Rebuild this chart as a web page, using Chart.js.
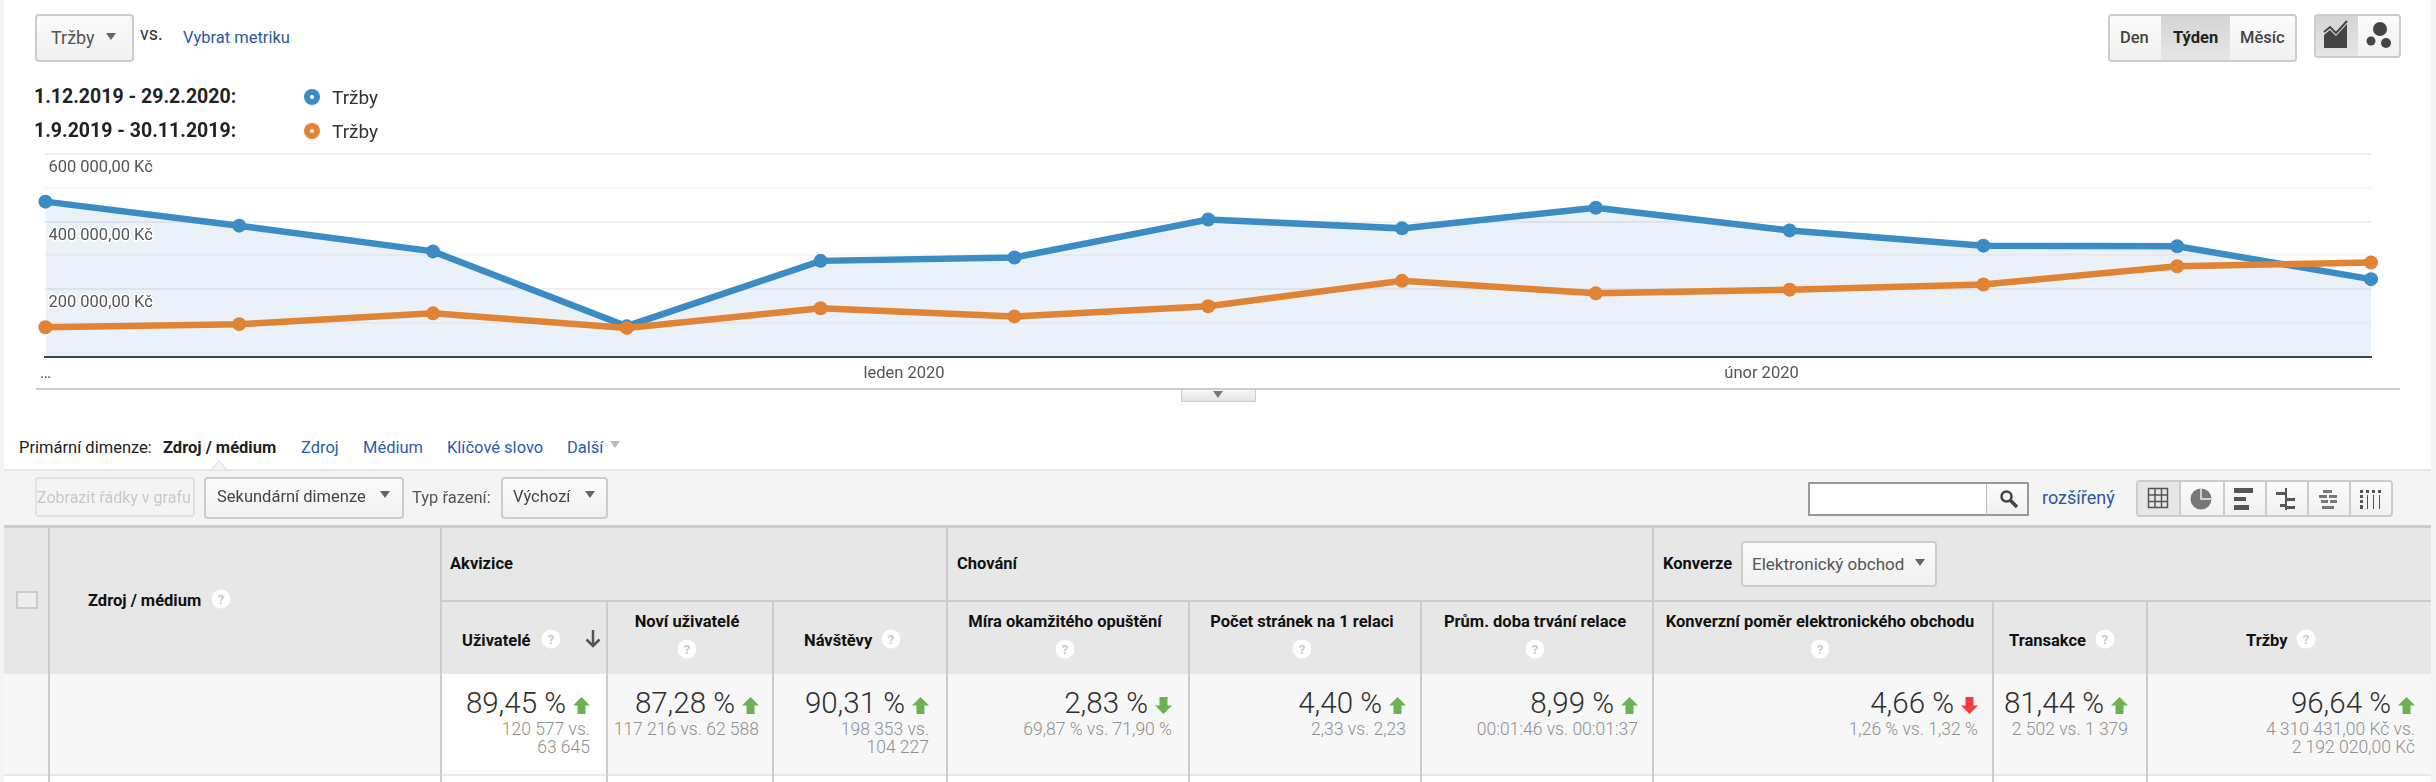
<!DOCTYPE html>
<html lang="cs">
<head>
<meta charset="utf-8">
<title>Tržby</title>
<script src="https://cdn.jsdelivr.net/npm/chart.js@4"></script>
<style>
  html, body { margin: 0; padding: 0; background: #fff; }
  body { width: 2436px; height: 782px; overflow: hidden; position: relative; font-family: Roboto, sans-serif; color: #333; }
  .t { position: absolute; white-space: nowrap; line-height: 1; transform: translateY(-50%); }
  .box { position: absolute; box-sizing: border-box; }
  .btn { border: 2px solid #ccc; border-radius: 4px; background: linear-gradient(#fbfbfb, #f1f1f1); }
  .on { background: linear-gradient(#d4d4d4, #e6e6e6); }
  .line { position: absolute; background: #ccc; }
  .caret { position: absolute; width: 0; height: 0; border-left: 5px solid transparent; border-right: 5px solid transparent; border-top: 7px solid #666; }
  .link { color: #2a5db0; }
  .bold { font-weight: 700; }
  .help { position: absolute; width: 19px; height: 19px; border-radius: 50%; background: #fff; color: #c9c9c9; font-size: 13px; font-weight: 700; line-height: 19px; text-align: center; transform: translate(-50%, -50%); }
  svg { position: absolute; overflow: visible; }
  #chartWrap { position: absolute; left: 0; top: 141px; width: 2436px; height: 249px; }
</style>
</head>
<body>
<div class="box" style="left:0;top:0;width:4px;height:782px;background:#f4f4f4"></div>
<div class="box" style="left:2431px;top:0;width:5px;height:782px;background:#f4f4f4"></div>
<div id="chartWrap"><canvas id="revenueChart"></canvas></div>
<div id="page"></div>

<script>
// data
const seriesName = "Tržby";
const rangeCurrent = "1.12.2019 - 29.2.2020:";
const rangePrevious = "1.9.2019 - 30.11.2019:";
const revenueCurrent = [459000, 388000, 312000, 91000, 284000, 294000, 406000, 380000, 441000, 374000, 329000, 327000, 230000];
const revenuePrevious = [88000, 97000, 129000, 86000, 144000, 120000, 150000, 225000, 188000, 199000, 214000, 268000, 279000];
const yTickValues = [600000, 400000, 200000];
const yTickLabels = ["600 000,00 Kč", "400 000,00 Kč", "200 000,00 Kč"];
const xTickValues = [0, 4.43, 8.855];
const xTickLabels = ["…", "leden 2020", "únor 2020"];

const colorCurrent = "#3b8bc4";
const colorPrevious = "#e08335";

// chart
const toPoints = (values) => values.map((v, i) => ({ x: i, y: v }));

new Chart(document.getElementById("revenueChart"), {
  type: "line",
  data: {
    datasets: [
      {
        label: seriesName,
        data: toPoints(revenueCurrent),
        order: 2,
        borderColor: colorCurrent,
        backgroundColor: "rgba(50,120,190,0.1)",
        pointBackgroundColor: colorCurrent,
        pointBorderColor: colorCurrent,
        fill: "origin",
      },
      {
        label: seriesName,
        data: toPoints(revenuePrevious),
        order: 1,
        borderColor: colorPrevious,
        pointBackgroundColor: colorPrevious,
        pointBorderColor: colorPrevious,
        fill: false,
      },
    ],
  },
  options: {
    responsive: true,
    maintainAspectRatio: false,
    animation: false,
    clip: false,
    layout: { padding: { left: 45.4, right: 65, top: 0, bottom: 0 } },
    elements: {
      line: { borderWidth: 6.5, tension: 0 },
      point: { radius: 7, borderWidth: 0 },
    },
    plugins: { legend: { display: false }, tooltip: { enabled: false } },
    scales: {
      x: {
        type: "linear",
        min: 0,
        max: revenueCurrent.length - 1,
        afterBuildTicks: (axis) => {
          axis.ticks = xTickValues.map((v) => ({ value: v }));
        },
        afterFit: (axis) => {
          axis.height = 33;
        },
        grid: { display: false, drawTicks: false },
        border: { color: "#444", width: 2 },
        ticks: {
          autoSkip: false,
          maxRotation: 0,
          padding: 7,
          color: "#555",
          font: { family: "Roboto", size: 16.5 },
          callback: (v) => xTickLabels[xTickValues.indexOf(v)],
        },
      },
      y: {
        min: 0,
        max: 600000,
        afterFit: (axis) => {
          axis.width = 0;
        },
        border: { display: false },
        grid: {
          drawTicks: false,
          lineWidth: 2,
          color: (ctx) => (ctx.tick && ctx.tick.value % 200000 === 0 ? "#f0f0f0" : "#f8f8f8"),
        },
        ticks: {
          mirror: true,
          stepSize: 100000,
          autoSkip: false,
          padding: 3,
          labelOffset: 14,
          z: 1,
          color: "#555",
          textStrokeColor: "#fff",
          textStrokeWidth: 3,
          font: { family: "Roboto", size: 16.5 },
          callback: (v) => {
            const i = yTickValues.indexOf(v);
            return i < 0 ? "" : yTickLabels[i];
          },
        },
      },
    },
  },
});

// the report around the chart
const page = document.getElementById("page");

function add(html) {
  page.insertAdjacentHTML("beforeend", html);
}
function text(s, x, y, size, style = "", cls = "") {
  add(`<div class="t ${cls}" style="left:${x}px;top:${y}px;font-size:${size}px;${style}">${s}</div>`);
}
function textRight(s, right, y, size, style = "", cls = "") {
  add(`<div class="t ${cls}" style="right:${2436 - right}px;top:${y}px;font-size:${size}px;${style}">${s}</div>`);
}
function textMid(s, mid, y, size, style = "", cls = "") {
  add(`<div class="t ${cls}" style="left:${mid}px;top:${y}px;font-size:${size}px;transform:translate(-50%,-50%);${style}">${s}</div>`);
}
function box(x0, y0, x1, y1, cls = "", style = "") {
  add(`<div class="box ${cls}" style="left:${x0}px;top:${y0}px;width:${x1 - x0}px;height:${y1 - y0}px;${style}"></div>`);
}
function caret(x, y, color = "#666") {
  add(`<div class="caret" style="left:${x - 5}px;top:${y - 3}px;border-top-color:${color}"></div>`);
}
function help(x, y) {
  add(`<div class="help" style="left:${x}px;top:${y}px">?</div>`);
}
function marker(x, y, color) {
  add(`<svg style="left:0;top:0" width="1" height="1"><circle cx="${x}" cy="${y}" r="8" fill="${color}"/><circle cx="${x}" cy="${y}" r="2" fill="#fff"/></svg>`);
}

// top left
box(35, 14, 134, 62, "btn");
text(seriesName, 51, 38, 18, "color:#555");
caret(111, 36);
text("vs.", 140, 34, 18, "color:#333");
text("Vybrat metriku", 183, 38, 16.5, "color:#2a5a9c");
text(rangeCurrent, 34, 97, 19.5, "color:#222", "bold");
text(rangePrevious, 34, 131, 19.5, "color:#222", "bold");
marker(312, 97, colorCurrent);
marker(312, 131, colorPrevious);
text(seriesName, 332, 97, 19, "color:#333");
text(seriesName, 332, 131, 19, "color:#333");

// top right
box(2108, 14, 2297, 62, "btn");
box(2161, 16, 2230, 60, "on");
text("Den", 2120, 38, 16.5, "color:#444;font-weight:500");
text("Týden", 2173, 38, 16.5, "color:#222", "bold");
text("Měsíc", 2240, 38, 16.5, "color:#444;font-weight:500");
box(2314, 14, 2401, 58, "btn");
box(2316, 16, 2358, 56, "on");
add(`<svg style="left:2324px;top:22px" width="24" height="26"><path d="M0 26V13l6-5 6 6L23 2v24z" fill="#444"/><path d="M0 10l6-5 6 6L23-1" fill="none" stroke="#444" stroke-width="2"/></svg>`);
add(`<svg style="left:2366px;top:22px" width="26" height="26"><circle cx="14" cy="7" r="7" fill="#444"/><circle cx="5" cy="19" r="4.5" fill="#444"/><circle cx="20" cy="21" r="5" fill="#444"/></svg>`);

// bottom edge of the chart
box(36, 388, 2400, 390, "", "background:#ccc");
box(1181, 390, 1256, 402, "", "background:linear-gradient(#f6f6f6,#e4e4e4);border:1px solid #ccc;border-top:0");
caret(1218, 394, "#777");

// dimension row
text("Primární dimenze:", 19, 448, 16.5, "color:#222");
text("Zdroj / médium", 163, 448, 16.5, "color:#222", "bold");
text("Zdroj", 301, 448, 16.5, "", "link");
text("Médium", 363, 448, 16.5, "", "link");
text("Klíčové slovo", 447, 448, 16.5, "", "link");
text("Další", 567, 448, 16.5, "", "link");
caret(615, 444, "#bbb");

// toolbar
box(4, 469, 2431, 526, "", "background:#f4f4f4;border-top:2px solid #e6e6e6");
add(`<svg style="left:0;top:0" width="1" height="1"><path d="M211 470l8-9 8 9z" fill="#f4f4f4" stroke="#e6e6e6" stroke-width="1.5"/></svg>`);
box(35, 477, 195, 517, "", "border:2px solid #e2e2e2;border-radius:4px");
text("Zobrazit řádky v grafu", 37, 498, 16, "color:#c8c8c8");
box(204, 477, 404, 519, "btn");
text("Sekundární dimenze", 217, 497, 16.5, "color:#444");
caret(385, 494);
text("Typ řazení:", 412, 498, 16.5, "color:#555");
box(501, 477, 608, 519, "btn");
text("Výchozí", 513, 497, 16.5, "color:#444");
caret(590, 494);
box(1808, 482, 2029, 516, "", "background:#fff;border:2px solid #999;border-radius:1px");
box(1986, 484, 2029, 516, "", "background:linear-gradient(#fbfbfb,#f1f1f1);border-left:1px solid #bbb;border-right:2px solid #999;border-bottom:2px solid #999");
add(`<svg style="left:2000px;top:490px" width="18" height="18"><circle cx="6.5" cy="6.5" r="5" fill="none" stroke="#444" stroke-width="2.5"/><path d="M10 10l7 7" stroke="#444" stroke-width="3.5"/></svg>`);
text("rozšířený", 2042, 498, 18, "color:#2a5a9c");
box(2136, 480, 2393, 517, "btn");
box(2138, 482, 2179, 515, "", "background:#e6e6e6");
[2179, 2223, 2265, 2307, 2349].forEach((x) => box(x, 482, x + 2, 515, "", "background:#ccc"));
add(`<svg style="left:2148px;top:488px" width="20" height="20" fill="none" stroke="#555" stroke-width="1.5"><path d="M.5.5h19v19H.5zM.5 7h19M.5 13.500h19M7 .5v19M13.500 .5v19"/></svg>`);
add(`<svg style="left:2190px;top:488px" width="22" height="22"><circle cx="11" cy="11" r="10.500" fill="#777"/><path d="M11 .5V11h10.500" fill="none" stroke="#eee" stroke-width="1.500"/></svg>`);
add(`<svg style="left:2234px;top:488px" width="20" height="22" fill="#555"><path d="M0 0h19v5H0zM0 9h12v4H0zM0 17h15v5H0z"/></svg>`);
add(`<svg style="left:2276px;top:488px" width="20" height="22" fill="#555"><path d="M9 0h2v22H9zM0 4h9v3H0zM11 10h8v3h-8zM4 16h5v3H4zM11 18h8v3h-8z"/></svg>`);
add(`<svg style="left:2319px;top:490px" width="18" height="20" fill="#777"><path d="M4 0h9v3H4zM0 5h8v3H0zM10 5h8v3h-8zM2 10h7v3H2zM11 10h7v3h-7zM3 16h12v3H3z"/></svg>`);
add(`<svg style="left:2360px;top:490px" width="22" height="20" fill="#555"><path d="M0 0h3v3H0zM6 0h3v3H6zM12 0h3v3h-3zM18 0h3v3h-3zM0 5h3v3H0zM0 10h3v3H0zM0 15h3v4H0zM7 5h1v14H7zM13 5h1v14h-1zM19 5h1v14h-1z"/></svg>`);

// table
const changeTexts = ["89,45 %", "87,28 %", "90,31 %", "2,83 %", "4,40 %", "8,99 %", "4,66 %", "81,44 %", "96,64 %"];
const changeDirections = ["up", "up", "up", "down", "up", "up", "down", "up", "up"];
const changeColors = ["#6ab252", "#6ab252", "#6ab252", "#6ab252", "#6ab252", "#6ab252", "#ee3f3a", "#6ab252", "#6ab252"];
const changeRights = [590, 759, 929, 1172, 1406, 1638, 1978, 2128, 2415];
const compareLines = [
  ["120 577 vs.", "63 645"],
  ["117 216 vs. 62 588"],
  ["198 353 vs.", "104 227"],
  ["69,87 % vs. 71,90 %"],
  ["2,33 vs. 2,23"],
  ["00:01:46 vs. 00:01:37"],
  ["1,26 % vs. 1,32 %"],
  ["2 502 vs. 1 379"],
  ["4 310 431,00 Kč vs.", "2 192 020,00 Kč"],
];

box(4, 527, 2431, 674, "", "background:#e7e7e7");
box(4, 674, 2431, 774, "", "background:#f7f7f7");
box(441, 674, 607, 774, "", "background:#fff");
box(4, 525, 2431, 528, "", "background:#ccc");
box(441, 600, 2431, 602, "", "background:#ccc");
box(4, 774, 2431, 776, "", "background:#e8e8e8");
[49, 441, 947, 1653].forEach((x) => box(x - 1, 527, x + 1, 782, "", "background:#ccc"));
[607, 773, 1189, 1421, 1993, 2147].forEach((x) => box(x - 1, 602, x + 1, 782, "", "background:#ccc"));
box(16, 591, 38, 609, "", "border:2px solid #ccc;background:#eee");

text("Zdroj / médium", 88, 601, 16.5, "color:#111", "bold");
help(221, 599);
text("Akvizice", 450, 564, 16.5, "color:#111", "bold");
text("Chování", 957, 564, 16.5, "color:#111", "bold");
text("Konverze", 1663, 564, 16.5, "color:#111", "bold");
box(1741, 541, 1937, 587, "btn");
text("Elektronický obchod", 1752, 564, 17, "color:#555");
caret(1920, 562);

text("Uživatelé", 462, 641, 16.5, "color:#111", "bold");
help(551, 639);
add(`<svg style="left:585px;top:630px" width="16" height="18" fill="none" stroke="#555" stroke-width="2.5"><path d="M8 0v16M1.500 9.500L8 16l6.500-6.500"/></svg>`);
textMid("Noví uživatelé", 687, 622, 16.5, "color:#111", "bold");
help(687, 649);
text("Návštěvy", 804, 641, 16.5, "color:#111", "bold");
help(891, 639);
textMid("Míra okamžitého opuštění", 1065, 622, 16.5, "color:#111", "bold");
help(1065, 649);
textMid("Počet stránek na 1 relaci", 1302, 622, 16.5, "color:#111", "bold");
help(1302, 649);
textMid("Prům. doba trvání relace", 1535, 622, 16.5, "color:#111", "bold");
help(1535, 649);
textMid("Konverzní poměr elektronického obchodu", 1820, 622, 16.5, "color:#111", "bold");
help(1820, 649);
text("Transakce", 2009, 641, 16.5, "color:#111", "bold");
help(2105, 639);
text("Tržby", 2246, 641, 16.5, "color:#111", "bold");
help(2306, 639);

changeTexts.forEach((s, i) => {
  const right = changeRights[i];
  textRight(s, right - 24, 704, 29.5, "color:#2f2f2f;font-weight:300");
  const shape = changeDirections[i] === "up" ? "M8.500 0l8.500 8.500h-4.500V17h-8V8.500H0z" : "M4.500 0h8v8.500H17L8.500 17 0 8.500h4.500z";
  add(`<svg style="left:${right - 17}px;top:697px" width="17" height="17"><path d="${shape}" fill="${changeColors[i]}"/></svg>`);
  compareLines[i].forEach((line, k) => {
    textRight(line, right, 730 + k * 18, 17.5, "color:#909090;font-weight:300");
  });
});
</script>
</body>
</html>
